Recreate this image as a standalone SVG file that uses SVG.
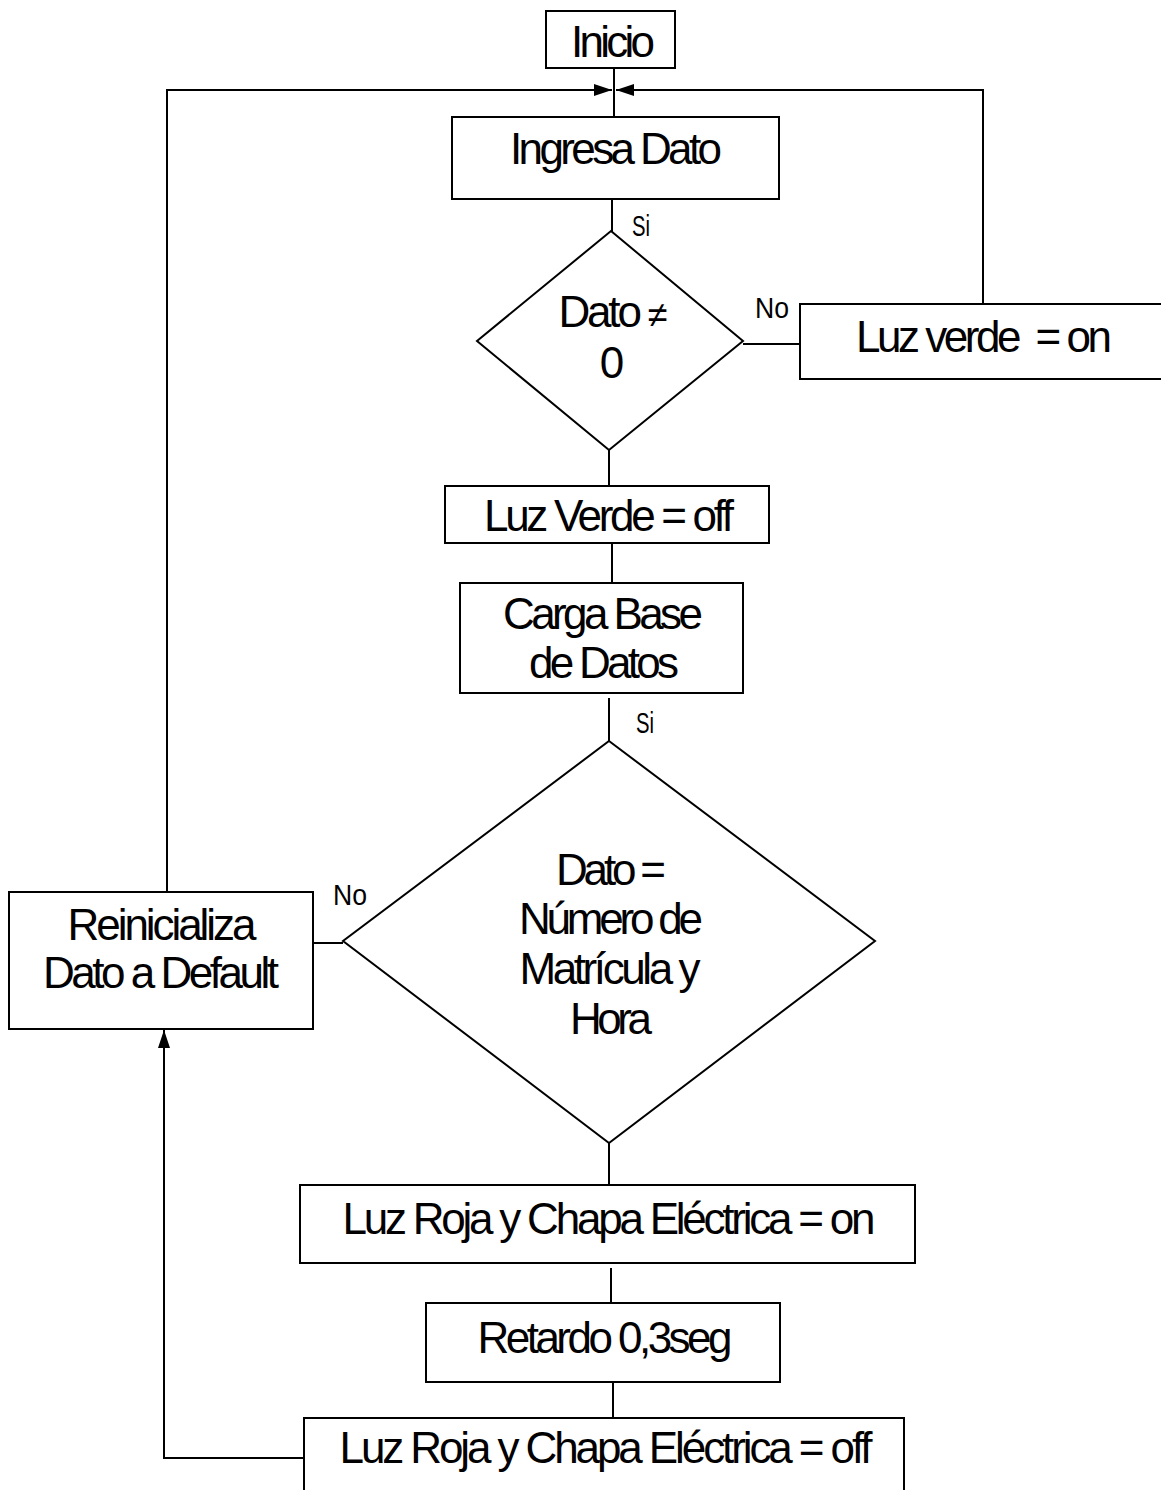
<svg xmlns="http://www.w3.org/2000/svg" width="1161" height="1490" viewBox="0 0 1161 1490">
<style>
.box{fill:#fff;stroke:#000;stroke-width:2}
.ln{fill:none;stroke:#000;stroke-width:2}
.t{font-family:"Liberation Sans",Arial,sans-serif;font-size:44px;fill:#000;text-anchor:middle}
.s{font-family:"Liberation Sans",Arial,sans-serif;font-size:30px;fill:#000;text-anchor:middle}
</style>
<defs>
<marker id="ah2" markerWidth="18" markerHeight="12" refX="18" refY="6" orient="auto" markerUnits="userSpaceOnUse">
<path d="M0,0 L18,6 L0,12 Z" fill="#000"/>
</marker>
</defs>
<g id="connectors">
<line class="ln" x1="614" y1="68" x2="614" y2="117"/>
<polyline class="ln" points="167,892 167,90 612,90" marker-end="url(#ah2)"/>
<polyline class="ln" points="983,304 983,90 616,90" marker-end="url(#ah2)"/>
<line class="ln" x1="612" y1="199" x2="612" y2="232"/>
<line class="ln" x1="743" y1="344" x2="800" y2="344"/>
<line class="ln" x1="609" y1="450" x2="609" y2="486"/>
<line class="ln" x1="612" y1="543" x2="612" y2="583"/>
<line class="ln" x1="609" y1="698" x2="609" y2="741"/>
<line class="ln" x1="343" y1="943" x2="314" y2="943"/>
<line class="ln" x1="609" y1="1143" x2="609" y2="1185"/>
<line class="ln" x1="611" y1="1268" x2="611" y2="1303"/>
<line class="ln" x1="613" y1="1382" x2="613" y2="1420"/>
<polyline class="ln" points="304,1458 164,1458 164,1030" marker-end="url(#ah2)"/>
</g>
<g id="inicio"><rect class="box" x="546" y="11" width="129" height="57"/><text class="t" x="613" y="57" textLength="84">Inicio</text></g>
<g id="ingresa"><rect class="box" x="452" y="117" width="327" height="82"/><text class="t" x="616" y="164" textLength="212">Ingresa Dato</text></g>
<g id="label-si1"><text class="s" x="641" y="236" textLength="18" lengthAdjust="spacingAndGlyphs">Si</text></g>
<g id="decision1"><polygon class="box" points="611,231 743,341 609,450 477,341"/><text class="t" x="613" y="327" textLength="109">Dato <tspan font-size="36">≠</tspan></text><text class="t" x="612" y="378">0</text></g>
<g id="label-no1"><text class="s" x="772" y="318" textLength="34" lengthAdjust="spacingAndGlyphs">No</text></g>
<g id="luzverde-on"><rect class="box" x="800" y="304" width="370" height="75"/><text class="t" x="984" y="352" textLength="256" xml:space="preserve">Luz verde  = on</text></g>
<g id="luzverde-off"><rect class="box" x="445" y="486" width="324" height="57"/><text class="t" x="609" y="531" textLength="250">Luz Verde = off</text></g>
<g id="carga"><rect class="box" x="460" y="583" width="283" height="110"/><text class="t" x="603" y="629" textLength="200">Carga Base</text><text class="t" x="604" y="678" textLength="150">de Datos</text></g>
<g id="label-si2"><text class="s" x="645" y="733" textLength="18" lengthAdjust="spacingAndGlyphs">Si</text></g>
<g id="decision2"><polygon class="box" points="609,741 875,941 609,1143 343,941"/><text class="t" x="611" y="885" textLength="110">Dato =</text><text class="t" x="611" y="934" textLength="184">Número de</text><text class="t" x="610" y="984" textLength="181">Matrícula y</text><text class="t" x="611" y="1034" textLength="82">Hora</text></g>
<g id="label-no2"><text class="s" x="350" y="905" textLength="34" lengthAdjust="spacingAndGlyphs">No</text></g>
<g id="reinicializa"><rect class="box" x="9" y="892" width="304" height="137"/><text class="t" x="162" y="940" textLength="189">Reinicializa</text><text class="t" x="161" y="988" textLength="236">Dato a Default</text></g>
<g id="luzroja-on"><rect class="box" x="300" y="1185" width="615" height="78"/><text class="t" x="609" y="1234" textLength="533">Luz Roja y Chapa Eléctrica = on</text></g>
<g id="retardo"><rect class="box" x="426" y="1303" width="354" height="79"/><text class="t" x="605" y="1353" textLength="255">Retardo 0,3seg</text></g>
<g id="luzroja-off"><rect class="box" x="304" y="1418" width="600" height="90"/><text class="t" x="606" y="1463" textLength="533">Luz Roja y Chapa Eléctrica = off</text></g>
</svg>
